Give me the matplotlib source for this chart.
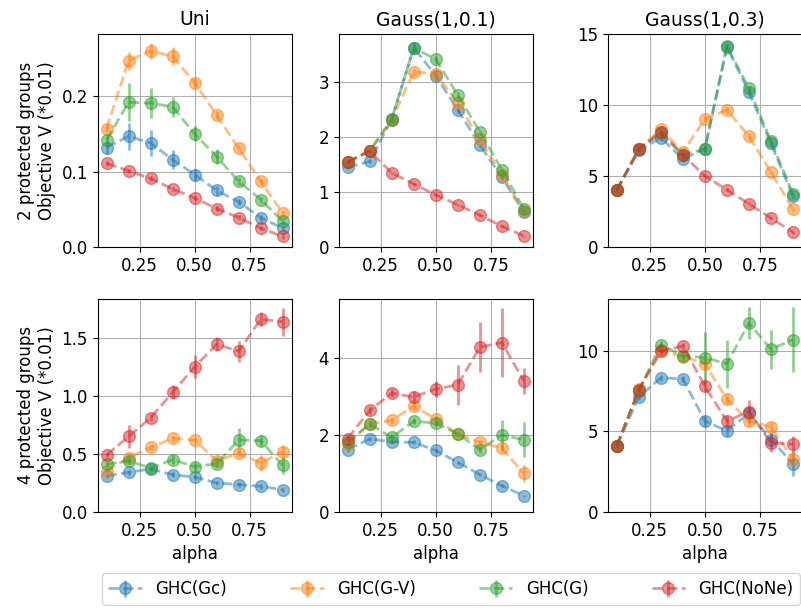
import numpy as np
import matplotlib
matplotlib.use("Agg")
import matplotlib.pyplot as plt
from matplotlib.ticker import MultipleLocator

alpha = [0.1, 0.2, 0.3, 0.4, 0.5, 0.6, 0.7, 0.8, 0.9]
methods = ['GHC(Gc)', 'GHC(G-V)', 'GHC(G)', 'GHC(NoNe)']
colors = ['tab:blue', 'tab:orange', 'tab:green', 'tab:red']
titles = ['Uni', 'Gauss(1,0.1)', 'Gauss(1,0.3)']
row_labels = ['2 protected groups\nObjective V (*0.01)', '4 protected groups\nObjective V (*0.01)']
ytick_steps = [[0.1, 1, 5], [0.5, 2, 5]]

# row 1: 2 protected groups
uni2_mean = [
    [0.132, 0.147, 0.138, 0.116, 0.096, 0.075, 0.060, 0.039, 0.025],
    [0.157, 0.247, 0.260, 0.253, 0.218, 0.175, 0.131, 0.087, 0.045],
    [0.142, 0.192, 0.191, 0.186, 0.150, 0.120, 0.087, 0.063, 0.034],
    [0.111, 0.101, 0.091, 0.077, 0.065, 0.051, 0.039, 0.025, 0.014],
]
uni2_err = [
    [0.008, 0.018, 0.017, 0.013, 0.008, 0.006, 0.004, 0.004, 0.003],
    [0.005, 0.012, 0.010, 0.012, 0.006, 0.005, 0.003, 0.003, 0.003],
    [0.005, 0.025, 0.020, 0.013, 0.010, 0.010, 0.005, 0.004, 0.003],
    [0.003, 0.003, 0.003, 0.003, 0.003, 0.003, 0.003, 0.003, 0.003],
]
g01_2_mean = [
    [1.45, 1.56, 2.33, 3.63, 3.12, 2.50, 1.86, 1.27, 0.63],
    [1.55, 1.75, 2.32, 3.19, 3.16, 2.62, 1.96, 1.31, 0.66],
    [1.55, 1.75, 2.32, 3.63, 3.42, 2.77, 2.10, 1.41, 0.70],
    [1.55, 1.75, 1.35, 1.15, 0.95, 0.77, 0.58, 0.38, 0.20],
]
g01_2_err = [
    [0.03, 0.03, 0.05, 0.08, 0.06, 0.05, 0.04, 0.03, 0.02],
    [0.03, 0.03, 0.05, 0.06, 0.06, 0.05, 0.04, 0.03, 0.02],
    [0.03, 0.03, 0.05, 0.08, 0.06, 0.05, 0.04, 0.03, 0.02],
    [0.03, 0.03, 0.02, 0.02, 0.02, 0.02, 0.02, 0.02, 0.01],
]
g03_2_mean = [
    [4.0, 6.8, 7.7, 6.2, 6.9, 14.1, 10.9, 7.3, 3.56],
    [4.0, 6.9, 8.3, 6.7, 9.0, 9.65, 7.8, 5.27, 2.67],
    [4.0, 6.9, 8.0, 6.5, 6.9, 14.15, 11.17, 7.47, 3.75],
    [4.0, 6.9, 8.1, 6.5, 5.0, 4.03, 3.04, 2.04, 1.05],
]
g03_2_err = [
    [0.1, 0.1, 0.2, 0.2, 0.2, 0.2, 0.2, 0.2, 0.1],
    [0.1, 0.1, 0.2, 0.2, 0.2, 0.2, 0.2, 0.1, 0.1],
    [0.1, 0.1, 0.2, 0.2, 0.2, 0.2, 0.2, 0.2, 0.1],
    [0.1, 0.1, 0.1, 0.1, 0.1, 0.1, 0.1, 0.1, 0.1],
]

# row 2: 4 protected groups
uni4_mean = [
    [0.31, 0.34, 0.37, 0.32, 0.30, 0.25, 0.235, 0.22, 0.19],
    [0.356, 0.466, 0.555, 0.635, 0.62, 0.44, 0.505, 0.42, 0.52],
    [0.41, 0.44, 0.377, 0.45, 0.39, 0.415, 0.62, 0.614, 0.40],
    [0.49, 0.65, 0.81, 1.03, 1.25, 1.445, 1.385, 1.66, 1.64],
]
uni4_err = [
    [0.02, 0.02, 0.02, 0.02, 0.02, 0.02, 0.02, 0.02, 0.02],
    [0.02, 0.02, 0.02, 0.02, 0.02, 0.04, 0.02, 0.07, 0.06],
    [0.02, 0.03, 0.02, 0.04, 0.03, 0.03, 0.10, 0.05, 0.07],
    [0.02, 0.10, 0.03, 0.06, 0.10, 0.06, 0.09, 0.06, 0.12],
]
g01_4_mean = [
    [1.62, 1.90, 1.82, 1.81, 1.60, 1.29, 0.97, 0.68, 0.42],
    [1.77, 2.29, 2.38, 2.76, 2.42, 2.03, 1.81, 1.66, 1.00],
    [1.82, 2.29, 1.94, 2.36, 2.31, 2.03, 1.62, 2.00, 1.88],
    [1.91, 2.64, 3.09, 2.99, 3.20, 3.31, 4.29, 4.41, 3.41],
]
g01_4_err = [
    [0.05, 0.05, 0.05, 0.05, 0.05, 0.04, 0.04, 0.04, 0.03],
    [0.05, 0.08, 0.08, 0.10, 0.08, 0.06, 0.06, 0.10, 0.22],
    [0.05, 0.08, 0.08, 0.08, 0.08, 0.06, 0.08, 0.40, 0.45],
    [0.05, 0.10, 0.10, 0.15, 0.22, 0.52, 0.65, 0.90, 0.33],
]
g03_4_mean = [
    [4.1, 7.13, 8.32, 8.26, 5.64, 5.03, 6.12, 4.49, 3.0],
    [4.1, 7.6, 10.04, 9.64, 9.2, 7.0, 5.64, 5.28, 3.3],
    [4.1, 7.5, 10.38, 9.69, 9.58, 9.2, 11.72, 10.1, 10.7],
    [4.1, 7.59, 9.96, 10.31, 7.8, 5.64, 6.23, 4.3, 4.2],
]
g03_4_err = [
    [0.1, 0.2, 0.2, 0.2, 0.3, 0.3, 0.4, 0.4, 0.8],
    [0.1, 0.2, 0.2, 0.3, 0.3, 0.3, 0.3, 0.3, 0.4],
    [0.1, 0.2, 0.2, 0.3, 1.6, 1.5, 1.0, 1.2, 2.0],
    [0.1, 0.2, 0.2, 0.2, 0.3, 0.3, 0.7, 0.6, 0.5],
]

means = [[uni2_mean, g01_2_mean, g03_2_mean], [uni4_mean, g01_4_mean, g03_4_mean]]
errs = [[uni2_err, g01_2_err, g03_2_err], [uni4_err, g01_4_err, g03_4_err]]

plt.rcParams['font.size'] = 12

fig = plt.figure(figsize=(8.01, 6.13), dpi=100)
lefts = [0.122, 0.423, 0.759]
width = 0.242
bottoms = [0.597, 0.165]
height = 0.348

handles = []
for r in range(2):
    for c in range(3):
        ax = fig.add_axes([lefts[c], bottoms[r], width, height])
        for k in range(4):
            h = ax.errorbar(alpha, means[r][c][k], yerr=errs[r][c][k], fmt='o--',
                            color=colors[k], alpha=0.5, markersize=8.5, lw=2,
                            elinewidth=2, label=methods[k])
            if r == 0 and c == 0:
                handles.append(h)
        ax.grid(True)
        ax.set_ylim(bottom=0)
        ax.set_xticks([0.25, 0.5, 0.75])
        ax.yaxis.set_major_locator(MultipleLocator(ytick_steps[r][c]))
        if r == 0:
            ax.set_title(titles[c], fontsize=13.5)
        else:
            ax.set_xlabel('alpha')
        if c == 0:
            ax.set_ylabel(row_labels[r])

fig.legend(handles, methods, loc='lower center', ncol=4, bbox_to_anchor=(0.563, 0.0),
           columnspacing=3.8, fontsize=12)

fig.savefig('out.png', dpi=100)
